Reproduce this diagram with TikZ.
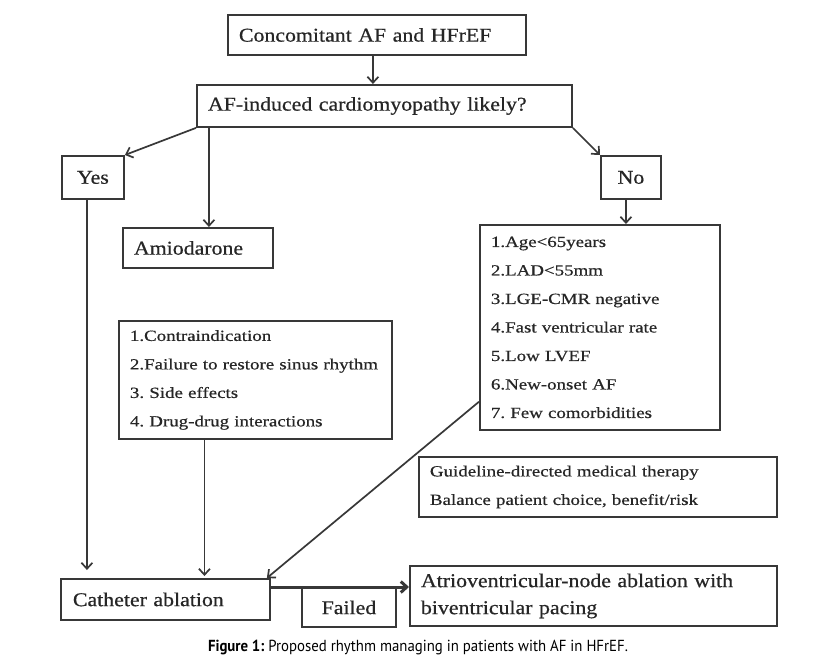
\documentclass[tikz,border=0pt]{standalone}
\usepackage{fontspec}
\usepackage{graphicx}
\usetikzlibrary{arrows.meta,calc}
\newfontfamily\bigf{Liberation Serif}[FakeStretch=1.12,FakeBold=0.6]
\newfontfamily\smallf{Liberation Serif}[FakeStretch=1.22,FakeBold=0.5]
\newfontfamily\capf{PT Sans}
\begin{document}
\frenchspacing
\begin{tikzpicture}[x=1pt,y=-1pt,
  basebox/.style={draw=black!78, line width=1.9pt, anchor=north west, inner xsep=11pt, inner ysep=0pt, align=left, text=black!85},
  bigbox/.style={basebox, font=\bigf\frenchspacing\fontsize{19.5}{27}\selectfont},
  smallbox/.style={basebox, font=\smallf\frenchspacing\fontsize{15.5}{28.5}\selectfont},
  conn/.style={draw=black!78, line width=1.7pt, -{Straight Barb[length=6pt,width=11pt]}}]
\useasboundingbox[fill=white] (0,0) rectangle (837,663);

\node[bigbox, minimum width=298pt, minimum height=40pt, text width=276pt] (b1) at (227,14) {Concomitant AF and HFrEF};
\node[bigbox, minimum width=375pt, minimum height=42pt, text width=353pt] (b2) at (196,84) {AF-induced cardiomyopathy likely?};
\node[bigbox, align=center, minimum width=62pt, minimum height=43pt, text width=40pt] (yes) at (61,155) {Yes};
\node[bigbox, align=center, minimum width=60pt, minimum height=43pt, text width=38pt] (no) at (600,155) {No};
\node[bigbox, minimum width=150pt, minimum height=40pt, text width=128pt] (amio) at (122,227) {Amiodarone};
\node[smallbox, minimum width=240pt, minimum height=205pt, text width=218pt] (list) at (479,224) {1.Age<65years\\2.LAD<55mm\\3.LGE-CMR negative\\4.Fast ventricular rate\\5.Low LVEF\\6.New-onset AF\\7. Few comorbidities};
\node[smallbox, minimum width=273pt, minimum height=118pt, text width=251pt] (contra) at (118,320) {1.Contraindication\\2.Failure to restore sinus rhythm\\3. Side effects\\4. Drug-drug interactions};
\node[smallbox, minimum width=358pt, minimum height=60pt, text width=336pt] (guide) at (418,456) {Guideline-directed medical therapy\\Balance patient choice, benefit/risk};
\node[bigbox, minimum width=209pt, minimum height=41pt, text width=185pt, inner xsep=12pt] (cath) at (60,578) {Catheter ablation};
\node[bigbox, align=center, minimum width=94pt, minimum height=39pt, text width=72pt] (failed) at (301,587) {Failed};
\node[bigbox, minimum width=367pt, minimum height=60pt, text width=345pt] (av) at (409,565) {Atrioventricular-node ablation with\\biventricular pacing};

\draw[conn] ([xshift=-4pt]b1.south) -- ([xshift=-4pt]b1.south |- b2.north);
\draw[conn] (b2.south west) -- (yes.north east);
\draw[conn] ([xshift=11pt]amio.north |- b2.south) -- ([xshift=11pt]amio.north);
\draw[conn] (b2.south east) -- (no.north west);
\draw[conn] ([xshift=-5pt]no.south) -- ([xshift=-5pt]no.south |- list.north);
\draw[conn] ([xshift=-6pt]yes.south) -- ($([xshift=-6pt]yes.south |- cath.north)+(0,-8)$);
\draw[conn] ([xshift=-51pt]contra.south) -- ($([xshift=-51pt]contra.south |- cath.north)+(0,-2)$);
\draw[conn] ($(list.north west)!0.859!(list.south west)$) -- ([xshift=-4pt]cath.north east);
\coordinate (h1) at ($(cath.north east)+(0,9)$);
\draw[conn, line width=3pt] (h1) -- (h1 -| av.west);

\node[anchor=base, inner sep=0pt] (cap) at (418,651) {\resizebox{420pt}{\height}{\capf\fontsize{16}{18}\selectfont\textbf{Figure 1:} Proposed rhythm managing in patients with AF in HFrEF.}};
\end{tikzpicture}
\end{document}
